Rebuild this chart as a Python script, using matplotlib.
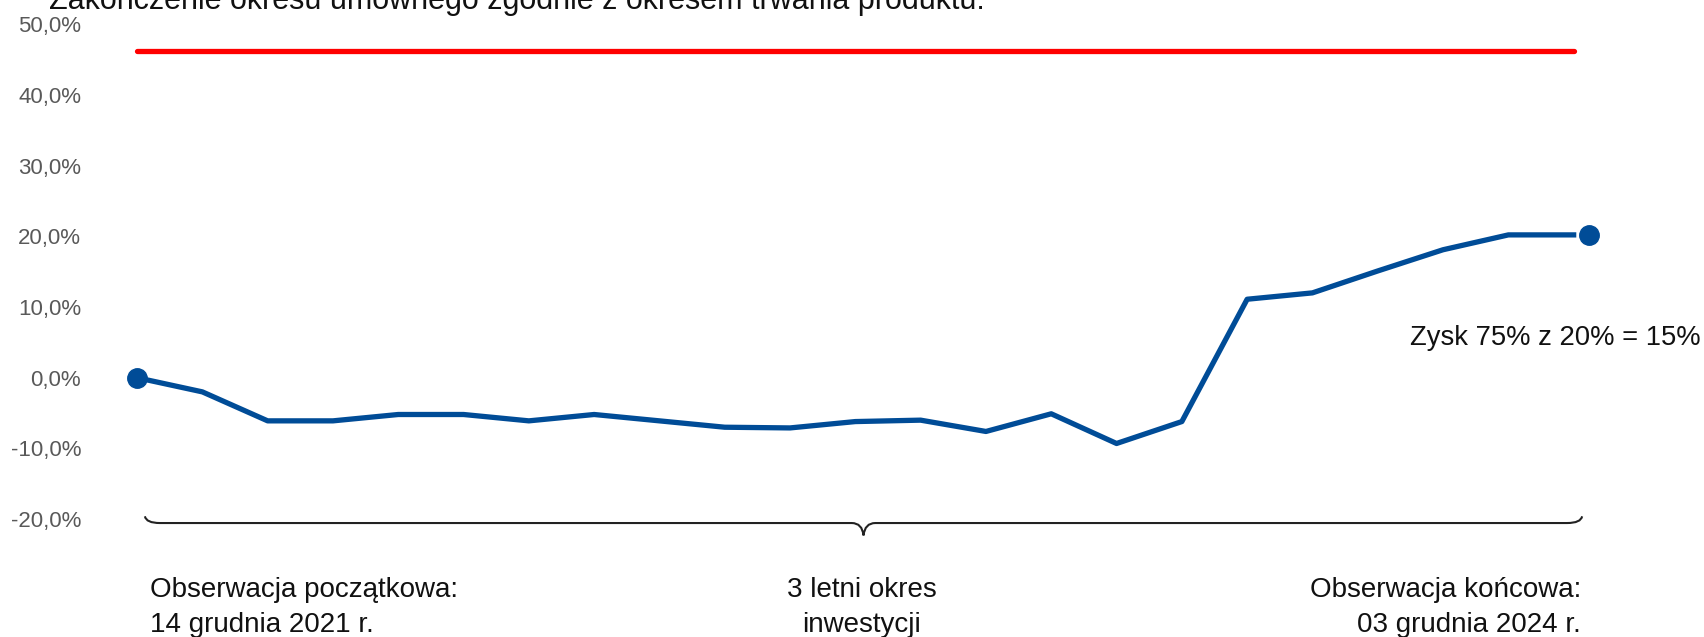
import matplotlib
matplotlib.use('Agg')
import matplotlib.pyplot as plt
from matplotlib.path import Path
from matplotlib.patches import PathPatch

# wartosci (%)
returns = [0.0, -2.0, -6.1, -6.1, -5.2, -5.2, -6.1, -5.2, -6.1, -7.0, -7.1, -6.2,
           -6.0, -7.6, -5.1, -9.3, -6.2, 11.1, 12.0, 15.1, 18.1, 20.2, 20.2]
barrier = 46.2
yticks = [50, 40, 30, 20, 10, 0, -10, -20]

title = "Zakończenie okresu umownego zgodnie z okresem trwania produktu."
gain_text = "Zysk 75% z 20% = 15%"
start_lines = ["Obserwacja początkowa:", "14 grudnia 2021 r."]
mid_lines = ["3 letni okres", "inwestycji"]
end_lines = ["Obserwacja końcowa:", "03 grudnia 2024 r."]

BLUE = '#004C97'
RED = '#FF0000'
FONT = 'Liberation Sans'
plt.rcParams['font.family'] = [FONT, 'DejaVu Sans']

W, H = 1704, 637
fig = plt.figure(figsize=(W / 100, H / 100), dpi=100)
ax = fig.add_axes([104.4 / W, (H - 554.5) / H, 1567.2 / W, 548 / H])
ax.set_xlim(-0.5, 23.5)
ax.set_ylim(-25, 52.5)

n = len(returns)
x = list(range(n))

ax.plot([x[0], x[-1]], [barrier, barrier], color=RED, lw=3.8, solid_capstyle='round')
ax.plot(x, returns, color=BLUE, lw=3.8, zorder=3)
ax.plot([x[0]], [returns[0]], 'o', ms=14, color=BLUE, zorder=4)
ax.plot([x[-1] + 0.24], [returns[-1]], 'o', ms=14, color=BLUE, zorder=4)

ax.set_yticks(yticks)
ax.set_yticklabels([f'{v:.1f}%'.replace('.', ',') for v in yticks])
ax.tick_params(axis='y', length=0, pad=16.8, labelsize=16, labelcolor='#595959')
ax.set_xticks([])
for s in ax.spines.values():
    s.set_visible(False)

# klamra pod wykresem
xl, xr = x[0] + 0.12, x[-1] + 0.13
xm = (xl + xr) / 2
yb, ye, yt = -20.55, -19.6, -22.3
r, tw = 0.23, 0.18
verts = [(xl, ye), (xl + 0.02, yb), (xl + r, yb),
         (xm - tw, yb), (xm - 0.02, yb), (xm, yt),
         (xm + 0.02, yb), (xm + tw, yb),
         (xr - r, yb), (xr - 0.02, yb), (xr, ye)]
codes = [Path.MOVETO, Path.CURVE3, Path.CURVE3,
         Path.LINETO, Path.CURVE3, Path.CURVE3,
         Path.CURVE3, Path.CURVE3,
         Path.LINETO, Path.CURVE3, Path.CURVE3]
ax.add_patch(PathPatch(Path(verts, codes), fill=False, lw=1.5,
                       edgecolor='#222222', clip_on=False))


def ftext(px, py, s, size=20, **kw):
    fig.text(px / W, 1 - py / H, s, va='baseline', fontsize=size, color='#111111', **kw)


ftext(49, 8.5, title, size=22)
ftext(1410, 345, gain_text, size=19.7)
for i, base in enumerate([597, 632]):
    ftext(150, base, start_lines[i], ha='left')
    ftext(862, base, mid_lines[i], ha='center')
    ftext(1581, base, end_lines[i], ha='right')

fig.savefig('out.png', dpi=100)
